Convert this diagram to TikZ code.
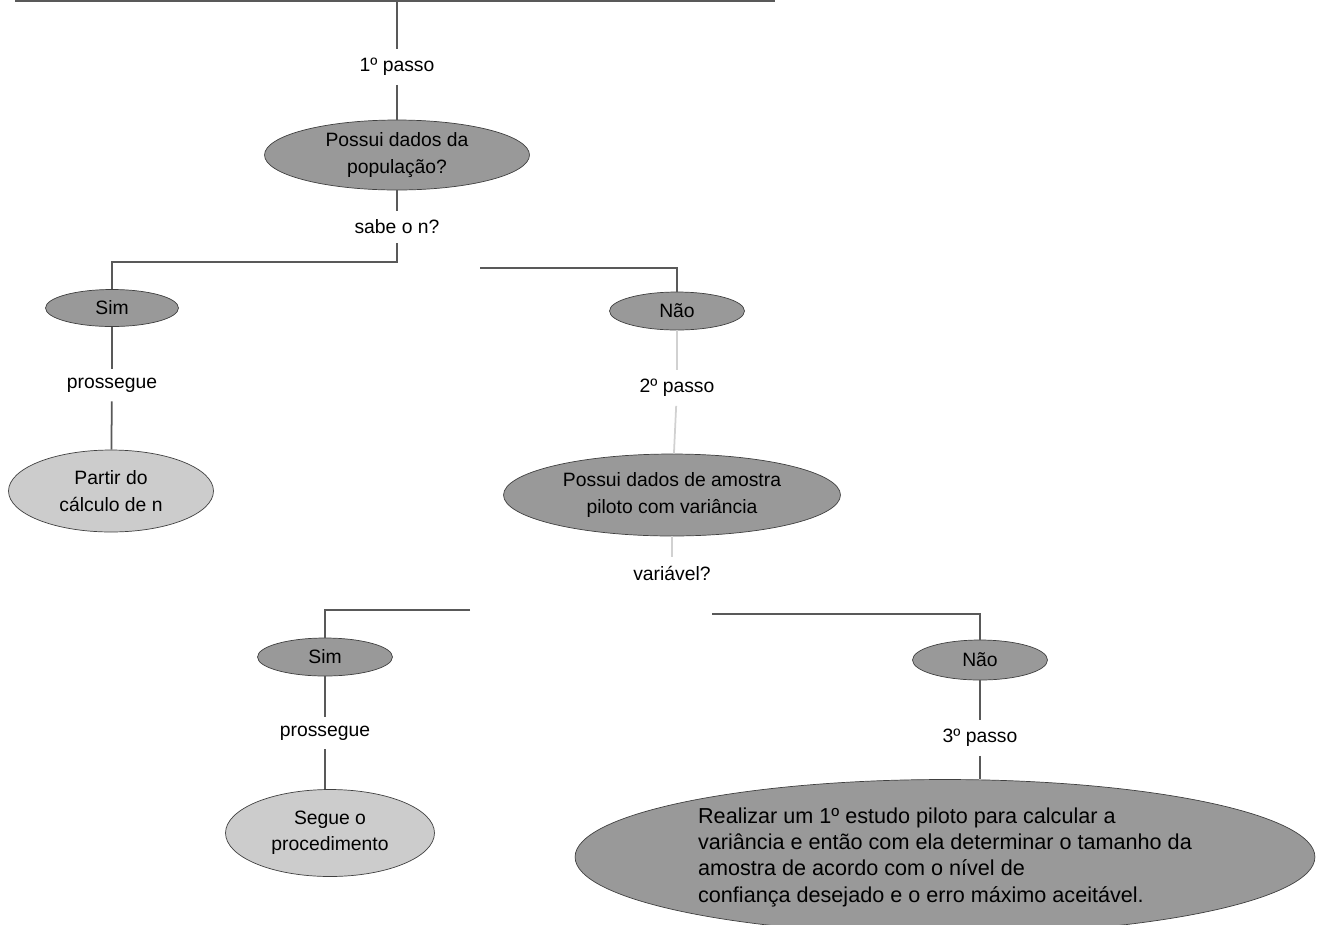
\documentclass[tikz,border=0pt]{standalone}
\usepackage{fontspec}
\setmainfont{Liberation Sans}
\usetikzlibrary{shapes.geometric}
\begin{document}
\begin{tikzpicture}[x=.02cm,y=-.02cm,font=\fontsize{11}{15}\selectfont,
darkbox/.style={ellipse,draw=black!75,fill=black!40,align=center,inner sep=0pt},
lightbox/.style={ellipse,draw=black!75,fill=black!20,align=center,inner sep=0pt},
lbl/.style={fill=white,inner sep=5pt},
link/.style={draw=black!65,line width=1pt},
faint/.style={draw=black!18,line width=1pt}]
\useasboundingbox (0,0) rectangle (1332,924);
%%%% nodes
\node[lbl] (p1) at (397,67) {1º passo};
\node[darkbox,minimum width=5.3cm,minimum height=1.4cm] (q1) at (397,155) {Possui dados da\\população?};
\node[lbl] (l1) at (397,227) {sabe o n?};
\node[darkbox,minimum width=2.66cm,minimum height=.74cm] (sim1) at (112,308) {Sim};
\node[darkbox,minimum width=2.7cm,minimum height=.76cm] (nao1) at (677,311) {Não};
\node[lbl] (pr1) at (112,385) {prossegue};
\node[lightbox,minimum width=4.1cm,minimum height=1.64cm] (res1) at (111,491) {Partir do\\cálculo de n};
\node[lbl] (p2) at (677,388) {2º passo};
\node[darkbox,minimum width=6.74cm,minimum height=1.64cm] (q2) at (672,495) {Possui dados de amostra\\piloto com variância};
\node[lbl] (l2) at (672,573) {variável?};
\node[darkbox,minimum width=2.7cm,minimum height=.76cm] (sim2) at (325,657) {Sim};
\node[darkbox,minimum width=2.7cm,minimum height=.8cm] (nao2) at (980,660) {Não};
\node[lbl] (pr2) at (325,733) {prossegue};
\node[lightbox,minimum width=4.18cm,minimum height=1.74cm] (res2) at (330,833) {Segue o\\procedimento};
\node[lbl] (p3) at (980,738) {3º passo};
\node[darkbox,align=left,font=\fontsize{12.3}{15}\selectfont,minimum width=14.8cm,minimum height=3.1cm] (res3) at (945,857) {Realizar um 1º estudo piloto para calcular a\\variância e então com ela determinar o tamanho da\\amostra de acordo com o nível de\\confiança desejado e o erro máximo aceitável.};
%%%% connectors
\coordinate (tl) at (15,1);
\coordinate (tr) at (775,1);
\coordinate (t0) at (397,1);
\coordinate (j1) at (397,262);
\coordinate (k1) at (480,268);
\coordinate (j2) at (470,610);
\coordinate (k2) at (712,614);
\draw[link] (tl) -- (tr);
\foreach \a/\b in {t0/p1,p1/q1,q1/l1,sim1/pr1,pr1/res1,sim2/pr2,nao2/p3}
\draw[link] (\a) -- (\b);
\draw[link] (pr2) -- (pr2 |- res2.north);
\draw[link] (p3) -- (p3 |- res3.north);
\draw[link] (l1) -- (j1) -| (sim1);
\draw[link] (k1) -| (nao1);
\foreach \a/\b in {nao1/p2,p2/q2,q2/l2}
\draw[faint] (\a) -- (\b);
\draw[link] (j2) -| (sim2);
\draw[link] (k2) -| (nao2);
\end{tikzpicture}
\end{document}
